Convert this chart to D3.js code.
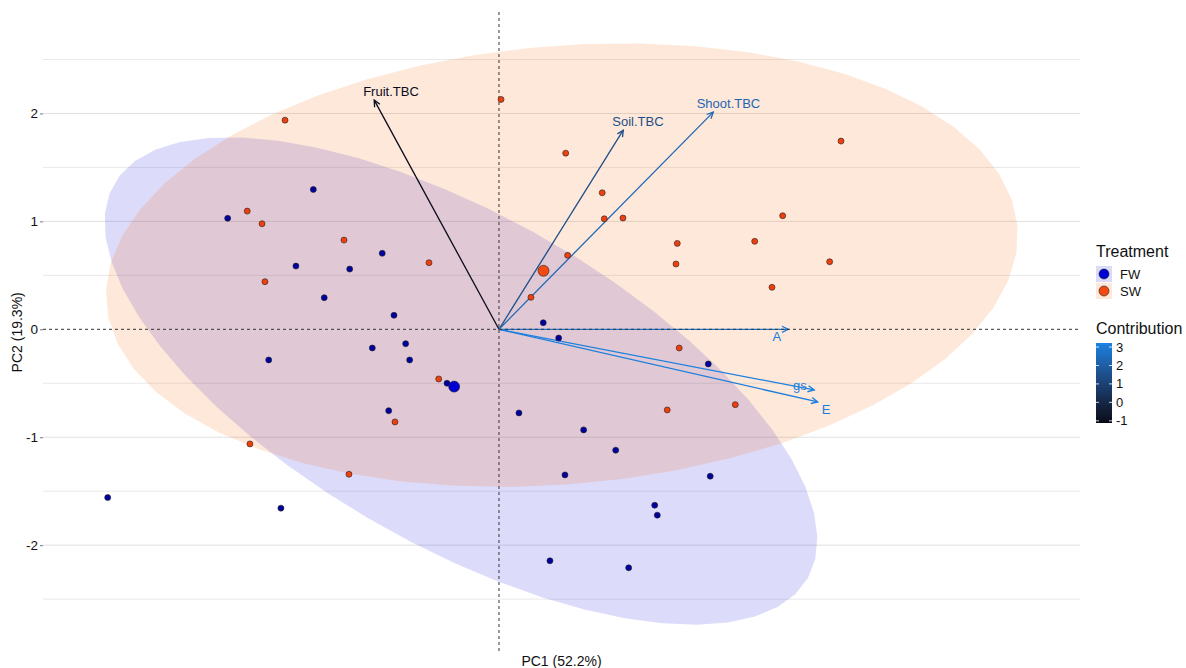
<!DOCTYPE html>
<html>
<head>
<meta charset="utf-8">
<script src="https://cdn.jsdelivr.net/npm/d3@7"></script>
<style>
  body { margin: 0; background: #ffffff; }
  svg text { font-family: Arial, "Liberation Sans", sans-serif; }
</style>
</head>
<body>
<svg id="chart" width="1186" height="668"></svg>
<script>
// ---- Individuals (PC scores) by treatment ----
const fwPC1 = [-2.512, -1.719, -1.880, -1.382, -1.081, -1.618, -0.972, 0.410, 0.553, -1.173,
               -0.864, -2.132, -0.827, -0.481, -1.021, 1.938, 0.185, 0.784, 1.081, 0.611,
               1.956, 1.442, 1.466, -3.623, -2.019, 0.472, 1.201];
const fwPC2 = [1.028, 1.296, 0.586, 0.558, 0.704, 0.293, 0.130, 0.061, -0.081, -0.173,
               -0.133, -0.284, -0.284, -0.500, -0.754, -0.321, -0.775, -0.932, -1.120, -1.349,
               -1.361, -1.630, -1.722, -1.559, -1.657, -2.145, -2.210];
const swPC1 = [0.019, -1.981, 0.618, 3.167, -2.331, -2.194, -1.435, 0.956, 0.975, 1.148,
               2.627, 2.368, 1.651, 0.636, -0.648, 1.639, 3.062, -2.167, 2.528, 0.296,
               1.669, -0.558, -0.963, 1.558, 2.188, -2.306, -1.389];
const swPC2 = [2.130, 1.938, 1.632, 1.744, 1.095, 0.978, 0.827, 1.265, 1.024, 1.031,
               1.052, 0.815, 0.796, 0.685, 0.617, 0.605, 0.626, 0.441, 0.389, 0.296,
               -0.173, -0.460, -0.858, -0.747, -0.698, -1.062, -1.343];

// ---- Variables (loadings) ----
const varNames   = ["Fruit.TBC", "Soil.TBC", "Shoot.TBC", "A", "gs", "E"];
const varPC1     = [-1.155, 1.151, 1.984, 2.679, 2.919, 2.951];
const varPC2     = [2.123, 1.845, 2.012, 0.000, -0.562, -0.673];
const varContrib = [-1.05, 1.45, 2.30, 3.00, 3.15, 3.10];
const labelPC1   = [-1.000, 1.287, 2.125, 2.574, 2.787, 3.028];
const labelPC2   = [2.200, 1.929, 2.093, -0.071, -0.525, -0.741];

// ---- Group ellipses (centre, semi-axes in PC units, rotation in degrees) ----
const ellGroups = ["FW", "SW"];
const ellCx     = [-0.352, 0.583];
const ellCy     = [-0.479, 0.595];
const ellA      = [3.695, 4.234];
const ellB      = [1.531, 2.031];
const ellAngle  = [-29.6, 4.9];

// ---- Axis ticks / labels ----
const yMajorTicks = [-2, -1, 0, 1, 2];
const yMinorTicks = [-2.5, -1.5, -0.5, 0.5, 1.5, 2.5];
const contribTicks = [-1, 0, 1, 2, 3];
const xTitle = "PC1 (52.2%)";
const yTitle = "PC2 (19.3%)";

// ---- Styling ----
const pointColor = { FW: "#00009E", SW: "#EE3F0E" };
const keyColor   = { FW: "#0000D4", SW: "#F24A12" };
const ellFill    = { FW: "#1a10de", SW: "#F2640A" };
const ellAlpha   = 0.15;

const svg = d3.select("#chart");
const panel = { left: 43, right: 1080, top: 12, bottom: 652 };

const x = d3.scaleLinear().domain([-4.222, 5.380]).range([panel.left, panel.right]);
const y = d3.scaleLinear().domain([-2.99, 2.94]).range([panel.bottom, panel.top]);

const contribDomain = [-1.12, 3.22];
const contribColor = d3.scaleLinear()
  .domain(contribDomain)
  .range(["#07091a", "#1a82e2"])
  .interpolate(d3.interpolateLab);

// Horizontal grid (minor then major)
svg.append("g").selectAll("line").data(yMinorTicks).join("line")
  .attr("x1", panel.left).attr("x2", panel.right)
  .attr("y1", d => y(d)).attr("y2", d => y(d))
  .attr("stroke", "#e9e9e9").attr("stroke-width", 1);
svg.append("g").selectAll("line").data(yMajorTicks.filter(d => d !== 0)).join("line")
  .attr("x1", panel.left).attr("x2", panel.right)
  .attr("y1", d => y(d)).attr("y2", d => y(d))
  .attr("stroke", "#e0e0e0").attr("stroke-width", 1);

// Y axis
const yAxis = d3.axisLeft(y).tickValues(yMajorTicks).tickSize(3).tickPadding(2)
  .tickFormat(d => String(d));
const gy = svg.append("g").attr("transform", `translate(${panel.left},0)`).call(yAxis);
gy.select(".domain").remove();
gy.selectAll(".tick line").attr("stroke", "#555").attr("stroke-width", 0.8);
gy.selectAll(".tick text").attr("fill", "#111").style("font-size", "13.5px");

// Ellipses
const ellipseData = ellGroups.map((g, i) => {
  const th = ellAngle[i] * Math.PI / 180;
  const n = 51;
  return {
    group: g,
    pts: d3.range(n + 1).map(k => {
      const t = 2 * Math.PI * k / n;
      const ex = ellA[i] * Math.cos(t), ey = ellB[i] * Math.sin(t);
      return [ellCx[i] + ex * Math.cos(th) - ey * Math.sin(th),
              ellCy[i] + ex * Math.sin(th) + ey * Math.cos(th)];
    })
  };
});
const ellLine = d3.line().x(d => x(d[0])).y(d => y(d[1]));
svg.append("g").selectAll("path").data(ellipseData).join("path")
  .attr("d", d => ellLine(d.pts) + "Z")
  .attr("fill", d => ellFill[d.group])
  .attr("fill-opacity", ellAlpha)
  .attr("stroke", "none");

// Variable arrows
const vars = varNames.map((n, i) => ({
  name: n, px: varPC1[i], py: varPC2[i], c: varContrib[i], lx: labelPC1[i], ly: labelPC2[i]
}));
const gArr = svg.append("g");
vars.forEach(v => {
  const col = contribColor(v.c);
  const x0 = x(0), y0 = y(0), x1 = x(v.px), y1 = y(v.py);
  gArr.append("line").attr("x1", x0).attr("y1", y0).attr("x2", x1).attr("y2", y1)
    .attr("stroke", col).attr("stroke-width", 1.3);
  const ang = Math.atan2(y1 - y0, x1 - x0);
  const hl = 7, ha = Math.PI / 7;
  const p1 = [x1 - hl * Math.cos(ang - ha), y1 - hl * Math.sin(ang - ha)];
  const p2 = [x1 - hl * Math.cos(ang + ha), y1 - hl * Math.sin(ang + ha)];
  gArr.append("path")
    .attr("d", `M${p1[0]},${p1[1]}L${x1},${y1}L${p2[0]},${p2[1]}`)
    .attr("fill", "none").attr("stroke", col).attr("stroke-width", 1.3);
});

// Zero reference lines
svg.append("line")
  .attr("x1", panel.left).attr("x2", panel.right).attr("y1", y(0)).attr("y2", y(0))
  .attr("stroke", "#333").attr("stroke-width", 1).attr("stroke-dasharray", "3,3");
svg.append("line")
  .attr("x1", x(0)).attr("x2", x(0)).attr("y1", panel.top).attr("y2", panel.bottom)
  .attr("stroke", "#333").attr("stroke-width", 1).attr("stroke-dasharray", "3,3");

// Variable labels
svg.append("g").selectAll("text").data(vars).join("text")
  .attr("x", d => x(d.lx)).attr("y", d => y(d.ly))
  .attr("text-anchor", "middle").attr("dominant-baseline", "central")
  .attr("fill", d => contribColor(d.c))
  .style("font-size", "13px")
  .text(d => d.name);

// Individuals
const inds = [
  ...fwPC1.map((v, i) => ({ g: "FW", px: v, py: fwPC2[i] })),
  ...swPC1.map((v, i) => ({ g: "SW", px: v, py: swPC2[i] }))
];
svg.append("g").selectAll("circle").data(inds).join("circle")
  .attr("cx", d => x(d.px)).attr("cy", d => y(d.py)).attr("r", 3)
  .attr("fill", d => pointColor[d.g]).attr("stroke", "#222").attr("stroke-width", 0.6);

// Group centroids (means)
const centroids = [
  { g: "FW", px: d3.mean(fwPC1), py: d3.mean(fwPC2) },
  { g: "SW", px: d3.mean(swPC1), py: d3.mean(swPC2) }
];
svg.append("g").selectAll("circle").data(centroids).join("circle")
  .attr("cx", d => x(d.px)).attr("cy", d => y(d.py)).attr("r", 5.5)
  .attr("fill", d => keyColor[d.g]).attr("stroke", "#222").attr("stroke-width", 0.6);

// Axis titles
svg.append("text").attr("x", (panel.left + panel.right) / 2).attr("y", 661)
  .attr("text-anchor", "middle").attr("dominant-baseline", "central")
  .attr("fill", "#111").style("font-size", "14px").text(xTitle);
svg.append("text").attr("transform", `translate(17,${y(0) + 3}) rotate(-90)`)
  .attr("text-anchor", "middle").attr("dominant-baseline", "central")
  .attr("fill", "#111").style("font-size", "14px").text(yTitle);

// Legend: Treatment
const lg = svg.append("g").attr("transform", "translate(1096,0)");
lg.append("text").attr("x", 0).attr("y", 251).attr("dominant-baseline", "central")
  .attr("fill", "#111").style("font-size", "16px").text("Treatment");
ellGroups.forEach((g, i) => {
  const ky = 266 + i * 17;
  lg.append("rect").attr("x", 0).attr("y", ky).attr("width", 16).attr("height", 16)
    .attr("fill", ellFill[g]).attr("fill-opacity", ellAlpha);
  lg.append("circle").attr("cx", 8).attr("cy", ky + 8).attr("r", 5)
    .attr("fill", keyColor[g]).attr("stroke", "#222").attr("stroke-width", 0.6);
  lg.append("text").attr("x", 24).attr("y", ky + 8).attr("dominant-baseline", "central")
    .attr("fill", "#111").style("font-size", "13px").text(g);
});

// Legend: Contribution colour bar
lg.append("text").attr("x", 0).attr("y", 328).attr("dominant-baseline", "central")
  .attr("fill", "#111").style("font-size", "16px").text("Contribution");
const cb = d3.scaleLinear().domain(contribDomain).range([423, 343]);
const grad = svg.append("defs").append("linearGradient").attr("id", "contribGrad")
  .attr("x1", 0).attr("y1", 1).attr("x2", 0).attr("y2", 0);
d3.range(0, 1.0001, 0.1).forEach(t => {
  grad.append("stop").attr("offset", t)
    .attr("stop-color", contribColor(contribDomain[0] + t * (contribDomain[1] - contribDomain[0])));
});
lg.append("rect").attr("x", 0).attr("y", cb.range()[1]).attr("width", 16)
  .attr("height", cb.range()[0] - cb.range()[1]).attr("fill", "url(#contribGrad)");
contribTicks.forEach(t => {
  lg.append("line").attr("x1", 0).attr("x2", 3).attr("y1", cb(t)).attr("y2", cb(t))
    .attr("stroke", "#fff").attr("stroke-width", 0.8);
  lg.append("line").attr("x1", 13).attr("x2", 16).attr("y1", cb(t)).attr("y2", cb(t))
    .attr("stroke", "#fff").attr("stroke-width", 0.8);
  lg.append("text").attr("x", 20).attr("y", cb(t)).attr("dominant-baseline", "central")
    .attr("fill", "#111").style("font-size", "13px").text(String(t));
});
</script>
</body>
</html>
